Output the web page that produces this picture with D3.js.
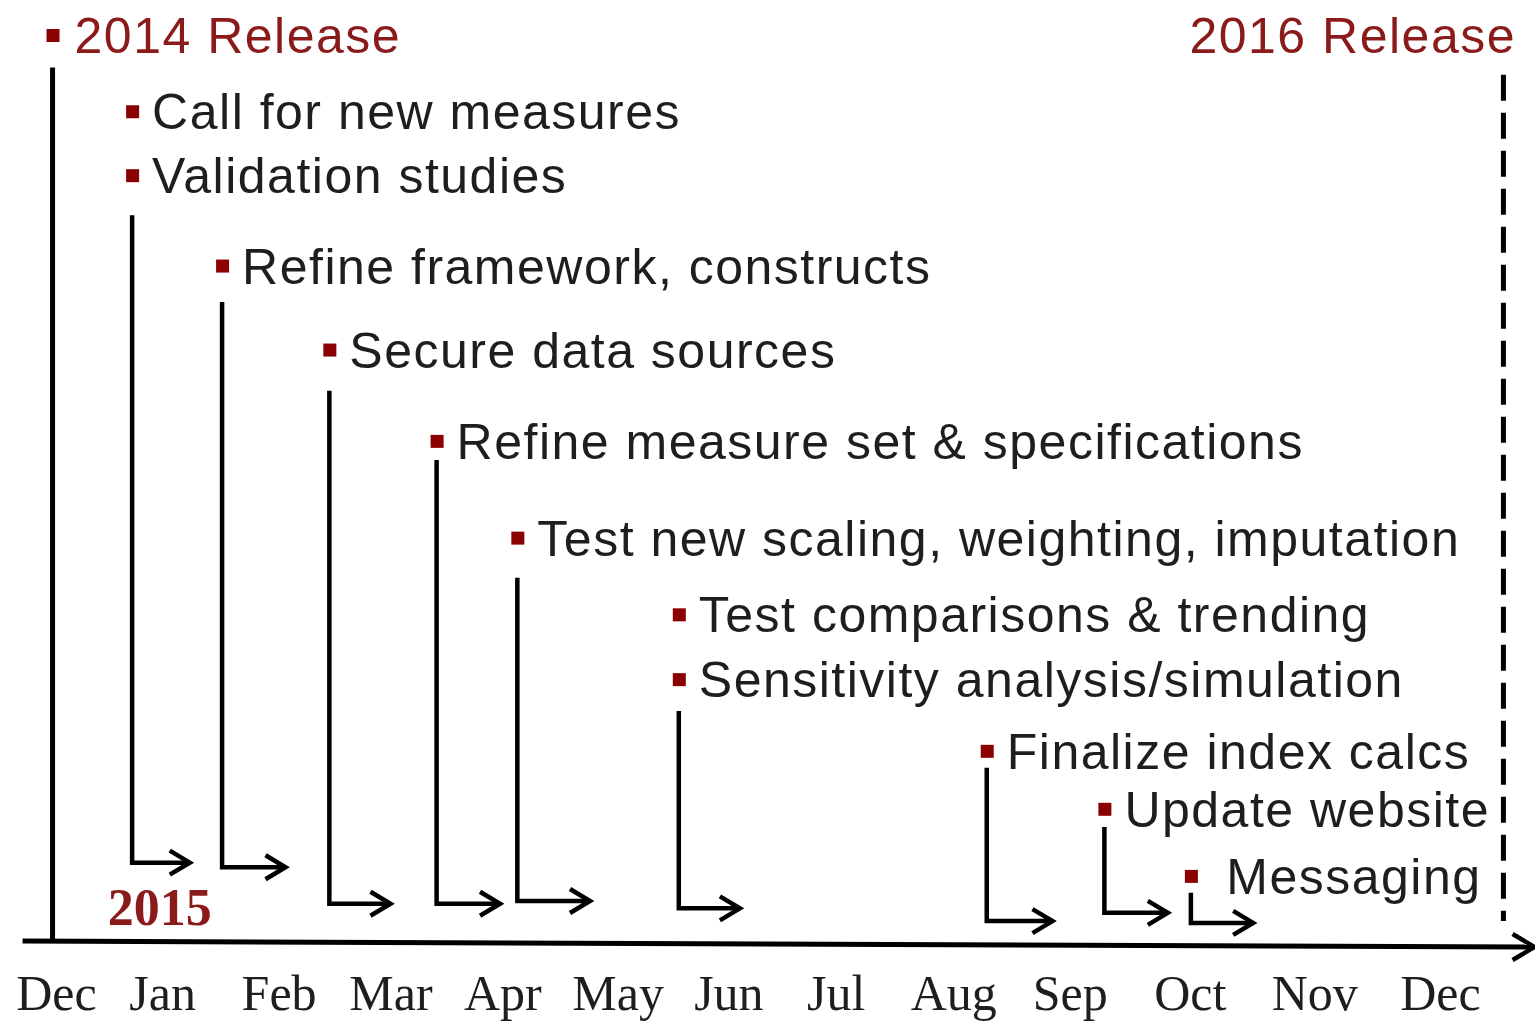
<!DOCTYPE html>
<html><head><meta charset="utf-8">
<script src="https://cdn.jsdelivr.net/npm/d3@7"></script>
<style>html,body{margin:0;padding:0;background:#fff;overflow:hidden}</style>
</head><body><svg id="c" width="1535" height="1022"></svg>
<script>
// ---- data ----
const months = ["Dec","Jan","Feb","Mar","Apr","May","Jun","Jul","Aug","Sep","Oct","Nov","Dec"];
const monthPos = [0, 0.92, 1.93, 2.90, 3.87, 4.87, 5.83, 6.76, 7.78, 8.79, 9.83, 10.91, 12];
const taskLabels = [
  ["Call for new measures","Validation studies"],
  ["Refine framework, constructs"],
  ["Secure data sources"],
  ["Refine measure set & specifications"],
  ["Test new scaling, weighting, imputation"],
  ["Test comparisons & trending","Sensitivity analysis/simulation"],
  ["Finalize index calcs"],
  ["Update website"],
  ["\u00a0Messaging"]
];
const taskStart = [0.66, 1.44, 2.37, 3.30, 4.00, 5.40, 8.07, 9.09, 9.84];
const taskEnd   = [1.16, 1.99, 2.90, 3.85, 4.63, 5.93, 8.64, 9.64, 10.38];
const labelLevel = [[91.1,84.1],[74.2],[65.0],[55.0],[44.4],[36.0,28.9],[21.05],[14.7],[7.35]];
const lineTop    = [79.7, 70.2, 60.5, 52.9, 40.0, 25.4, 19.2, 12.7, 5.5];
const arrowLevel = [8.8, 8.3, 4.3, 4.3, 4.6, 3.8, 2.4, 3.3, 2.2];
const releases = ["2014 Release","2016 Release"];
const releaseAt = [-0.03, 12.55];
const releaseLevel = 99.45;
const releaseLineTop = [95.9, 95.1];
const yearLabel = "2015";
const yearAt = [0.9, 2.0]; // index, level

// ---- scales ----
const svg = d3.select("#c");
const x = d3.scaleLinear().domain([0, 12]).range([56, 1440]);
const y = d3.scaleLinear().domain([0, 100]).range([943, 30]);
const RED = "#8b1a1a", TXT = "#1e1e1e", MK = "#8b0000";
const sans = "'Liberation Sans', Arial, sans-serif";
const serif = "'Liberation Serif', 'Times New Roman', serif";

// axis line with arrow (slightly tilted as in the original)
const axisStart = -0.29, axisEnd = 12.82;
const ay0 = y(0) - 2, ay1 = y(0) + 4;
svg.append("line").attr("x1", x(axisStart)).attr("x2", x(axisEnd))
  .attr("y1", ay0).attr("y2", ay1).attr("stroke", "#000").attr("stroke-width", 5);
svg.append("path").attr("d", `M${x(axisEnd)-22},${ay1-13} L${x(axisEnd)},${ay1} L${x(axisEnd)-22},${ay1+13}`)
  .attr("fill", "none").attr("stroke", "#000").attr("stroke-width", 4.5);

// month labels via d3 axis
const ax = svg.append("g").attr("transform", `translate(0,${y(0)})`)
  .call(d3.axisBottom(x).tickValues(monthPos).tickFormat((d, i) => months[i]).tickSize(0).tickPadding(49));
ax.select(".domain").remove();
ax.selectAll("text").attr("font-family", serif).attr("font-size", 50).attr("fill", TXT).attr("dy", "0.35em");

// release lines
svg.append("line").attr("x1", x(releaseAt[0])).attr("x2", x(releaseAt[0]))
  .attr("y1", y(releaseLineTop[0])).attr("y2", ay0).attr("stroke", "#000").attr("stroke-width", 5);
svg.append("line").attr("x1", x(releaseAt[1])).attr("x2", x(releaseAt[1]))
  .attr("y1", y(releaseLineTop[1])).attr("y2", y(2.4)).attr("stroke", "#000").attr("stroke-width", 5)
  .attr("stroke-dasharray", "26,12");

// release labels
svg.append("rect").attr("x", x(releaseAt[0]) - 6).attr("y", y(releaseLevel) - 6).attr("width", 13).attr("height", 13).attr("fill", MK);
svg.append("text").attr("x", x(releaseAt[0]) + 22).attr("y", y(releaseLevel) + 18)
  .attr("font-family", sans).attr("font-size", 50).attr("letter-spacing", 1.5).attr("fill", RED).text(releases[0]);
svg.append("text").attr("x", 1516).attr("y", y(releaseLevel) + 18).attr("text-anchor", "end")
  .attr("font-family", sans).attr("font-size", 50).attr("letter-spacing", 1.5).attr("fill", RED).text(releases[1]);

// year label
svg.append("text").attr("x", x(yearAt[0])).attr("y", y(yearAt[1]))
  .attr("text-anchor", "middle").attr("font-family", serif).attr("font-weight", "bold")
  .attr("font-size", 52).attr("fill", RED).text(yearLabel);

// tasks
taskLabels.forEach((labels, i) => {
  const g = svg.append("g");
  const xs = x(taskStart[i]), xe = x(taskEnd[i]), ya = y(arrowLevel[i]);
  labels.forEach((t, j) => {
    const yl = y(labelLevel[i][j]);
    g.append("rect").attr("x", xs - 6).attr("y", yl - 6).attr("width", 13).attr("height", 13).attr("fill", MK);
    g.append("text").attr("x", xs + 20).attr("y", yl + 18).attr("font-family", sans).attr("font-size", 50)
      .attr("letter-spacing", 1.5).attr("fill", TXT).style("white-space", "pre").text(t);
  });
  g.append("path").attr("d", `M${xs},${y(lineTop[i])} V${ya} H${xe}`)
    .attr("fill", "none").attr("stroke", "#000").attr("stroke-width", 4.5);
  g.append("path").attr("d", `M${xe-20},${ya-12} L${xe},${ya} L${xe-20},${ya+12}`)
    .attr("fill", "none").attr("stroke", "#000").attr("stroke-width", 4.5);
});
</script></body></html>
